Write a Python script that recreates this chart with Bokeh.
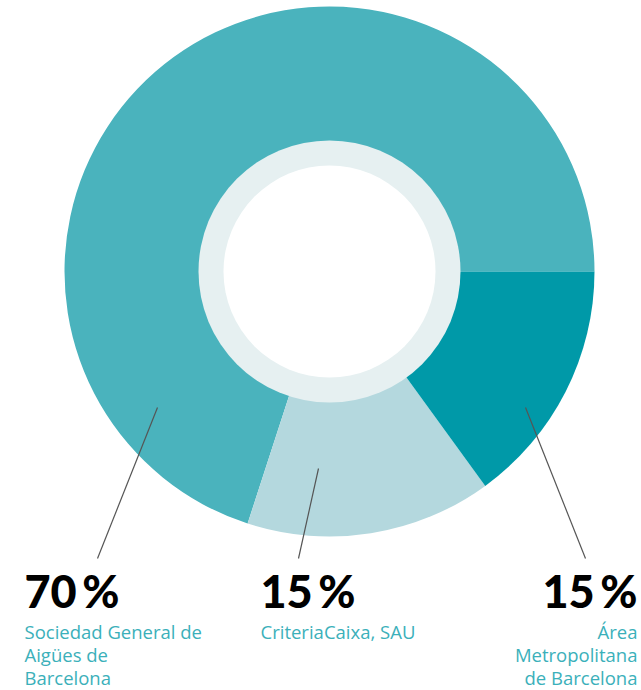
import numpy as np
from bokeh.plotting import figure
from bokeh.models import Range1d, ColumnDataSource
from bokeh.core.properties import value
from bokeh.embed import file_html
from bokeh.resources import INLINE

# ---- data ----
names = ["Sociedad General de Aigües de Barcelona", "CriteriaCaixa, SAU", "Área Metropolitana de Barcelona"]
shares = [70, 15, 15]
pct_labels = ["70\u2009%", "15\u2009%", "15\u2009%"]
label_lines = [["Sociedad General de", "Aigües de", "Barcelona"],
               ["CriteriaCaixa, SAU"],
               ["Área", "Metropolitana", "de Barcelona"]]
colors = ["#4AB3BD", "#B4D8DE", "#0099A8"]

# ---- layout ----
W, H = 641, 690
cx, cy = 329, H - 271
R_out, R_ring, R_hole = 265, 131, 106

p = figure(width=W, height=H, output_backend="svg", toolbar_location=None,
           x_range=Range1d(0, W), y_range=Range1d(0, H), min_border=0)
p.axis.visible = False
p.grid.visible = False
p.outline_line_color = None
p.background_fill_color = "white"
p.border_fill_color = "white"

tot = float(sum(shares))
ends = np.cumsum(shares) / tot * 2 * np.pi
starts = np.concatenate([[0], ends[:-1]])
src = ColumnDataSource(dict(x=[cx] * 3, y=[cy] * 3, start=starts, end=ends, color=colors))
p.wedge(x="x", y="y", radius=R_out, start_angle="start", end_angle="end",
        direction="anticlock", fill_color="color", line_color=None, source=src)
p.circle(x=[cx], y=[cy], radius=R_ring, fill_color="#E6F0F1", line_color=None)
p.circle(x=[cx], y=[cy], radius=R_hole, fill_color="white", line_color=None)

# leader lines (anchor in slice -> label)
anchors = [(157, 407), (318, 468), (525, 407)]
ends_pt = [(97, 558), (298, 558), (585, 558)]
p.segment(x0=[a[0] for a in anchors], y0=[H - a[1] for a in anchors],
          x1=[e[0] for e in ends_pt], y1=[H - e[1] for e in ends_pt],
          line_color="#555555", line_width=1.2)

# percentage labels
px = [24, 260, 637]
aligns = ["left", "left", "right"]
line_y = [631, 654, 677]
for i in range(3):
    p.text(x=[px[i]], y=[H - 590], text=[pct_labels[i]], text_font=value("Lato Black"),
           text_font_style="bold", text_font_size="45px", text_color="#000000",
           text_align=aligns[i], text_baseline="middle")
    for j, line in enumerate(label_lines[i]):
        p.text(x=[px[i]], y=[H - line_y[j]], text=[line], text_font=value("Open Sans"),
               text_font_size="18.5px", text_color="#3BB0BA",
               text_align=aligns[i], text_baseline="middle")

open("out.html", "w").write(file_html(p, INLINE))
